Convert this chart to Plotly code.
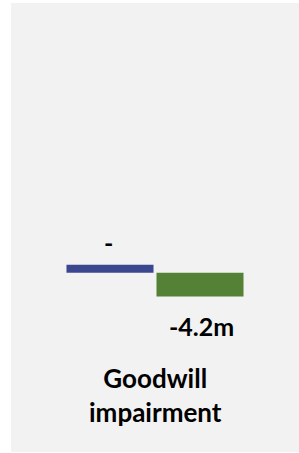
import plotly.graph_objects as go

categories = ["Goodwill impairment"]
category_labels = ["Goodwill<br>impairment"]
series_names = ["Prior year", "Current year"]
prior_values = [1.4]          # nil value shown as a small stub bar
prior_labels = ["-"]
current_values = [-4.2]
current_labels = ["-4.2m"]

BLUE = "#3B4890"
GREEN = "#538135"
FONT = "Lato"

fig = go.Figure()
fig.add_bar(x=categories, y=prior_values, name=series_names[0],
            marker=dict(color=BLUE, line=dict(width=0)))
fig.add_bar(x=categories, y=current_values, name=series_names[1],
            marker=dict(color=GREEN, line=dict(width=0)))

annotations = []
for c, v, t in zip(categories, prior_values, prior_labels):
    annotations.append(dict(x=c, y=v, text=t, showarrow=False, xshift=-46.5,
                            yanchor="middle", yshift=23,
                            font=dict(family=FONT, size=25, color="black", weight="bold")))
for c, v, t in zip(categories, current_values, current_labels):
    annotations.append(dict(x=c, y=v, text=t, showarrow=False, xshift=46,
                            yanchor="middle", yshift=-29,
                            font=dict(family=FONT, size=25, color="black", weight="bold")))
for c, t in zip(categories, category_labels):
    annotations.append(dict(x=c, y=0.128, yref="paper", text=t, showarrow=False,
                            yanchor="middle",
                            font=dict(family=FONT, size=26, color="black", weight="bold")))

fig.update_layout(
    width=299, height=453,
    margin=dict(l=11, r=0, t=3, b=1),
    paper_bgcolor="white", plot_bgcolor="#F2F2F2",
    barmode="group", bargap=0.375, bargroupgap=0.033,
    showlegend=False,
    xaxis=dict(visible=False, range=[-0.5, 0.5]),
    yaxis=dict(visible=False, range=[-31.4, 47.2]),
    annotations=annotations,
)

fig.write_html("out.html",
               config=dict(displayModeBar=False, staticPlot=True),
               post_script="document.body.style.margin='0';document.body.style.overflow='hidden';")
